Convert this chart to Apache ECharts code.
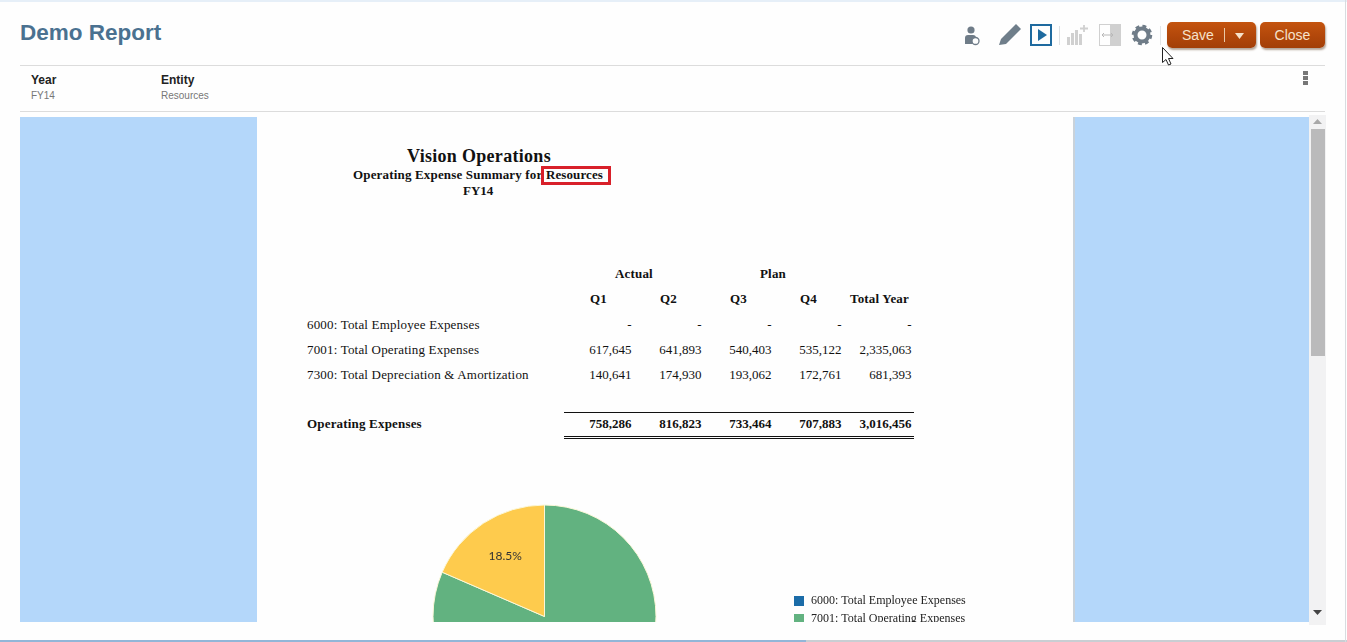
<!DOCTYPE html>
<html lang="en">
<head>
<meta charset="UTF-8">
<title>Demo Report</title>
<script src="https://cdn.jsdelivr.net/npm/echarts@6/dist/echarts.min.js"></script>
<style>
html, body { margin: 0; padding: 0; background: #fff; overflow: hidden; }
#page { position: relative; width: 1347px; height: 642px; overflow: hidden; background: #fefefe; font-family: "Liberation Sans", Arial, sans-serif; }
.box { position: absolute; }
.t { position: absolute; white-space: nowrap; line-height: 1; }
.serif { font-family: "Liberation Serif", serif; color: #111; font-size: 13px; }
.b { font-weight: bold; }
.r { text-align: right; }
.btn { position: absolute; top: 22px; height: 26px; background: linear-gradient(#c4540f, #b0460a 60%, #a23f08); border-radius: 5px; box-shadow: 1px 2px 2px rgba(90,60,30,.45); color: #f6e2cb; font-size: 14px; line-height: 26px; }
#clip { position: absolute; left: 257px; top: 117px; width: 816px; height: 505px; overflow: hidden; }
#chart { width: 816px; height: 700px; }
</style>
</head>
<body>
<div id="page">
    <!-- window edges -->
    <div class="box" style="left:0;top:0;width:1347px;height:2px;background:#e6eff8"></div>
    <div class="box" style="left:0;top:640px;width:806px;height:2px;background:#92b6d8"></div>
    <div class="box" style="left:806px;top:640px;width:541px;height:2px;background:#c9ced3"></div>
    <div class="box" style="left:1345px;top:0;width:1px;height:642px;background:#d8dce0"></div>

    <!-- header -->
    <div class="t b" style="left:20px;top:21.500px;font-size:22.500px;color:#4a7190">Demo Report</div>
    <div class="box" style="left:20px;top:65px;width:1305px;height:1px;background:#dcdcdc"></div>
    <div class="t b" style="left:31px;top:74px;font-size:12px;color:#222">Year</div>
    <div class="t" style="left:31px;top:91px;font-size:10px;color:#777">FY14</div>
    <div class="t b" style="left:161px;top:74px;font-size:12px;color:#222">Entity</div>
    <div class="t" style="left:161px;top:91px;font-size:10px;color:#777">Resources</div>
    <div class="box" style="left:20px;top:111px;width:1305px;height:1px;background:#dcdcdc"></div>

    <!-- toolbar icons -->
    <svg class="box" style="left:955px;top:15px" width="220" height="55" viewBox="955 15 220 55">
        <circle cx="971" cy="30" r="3.600" fill="#6f7c88"/>
        <path d="M965 44 v-6 q0 -3 3 -3 h5 q3 0 3 3 v6 z" fill="#6f7c88"/>
        <circle cx="975.500" cy="41" r="3.500" fill="#fefefe" stroke="#6f7c88" stroke-width="1.300"/>
        <path d="M999 45 l2 -6 l15 -15 l5 5 l-15 15 z" fill="#6f7e8a"/>
        <rect x="1031" y="25" width="20" height="20" fill="#fefefe" stroke="#1e6a9f" stroke-width="2"/>
        <path d="M1038 29 l9 6 l-9 6 z" fill="#1e6a9f"/>
        <rect x="1059" y="26" width="1" height="19" fill="#dde0e3"/>
        <path d="M1067 37h3v8h-3zM1071 33h3v12h-3zM1075 30h3v15h-3zM1079 34h3v11h-3z" fill="#d0d0d0"/>
        <path d="M1080 28.500h8M1084 25v7" stroke="#d0d0d0" stroke-width="1.800" fill="none"/>
        <rect x="1099.500" y="24.500" width="21" height="21" fill="#fefefe" stroke="#d0d0d0"/>
        <rect x="1110" y="24" width="11" height="22" fill="#d0d0d0"/>
        <path d="M1102 35h11M1104 33l-2 2l2 2M1111 33l2 2l-2 2" stroke="#b8b8b8" stroke-width="1" fill="none"/>
        <circle cx="1142" cy="35" r="8.500" fill="none" stroke="#6f7c88" stroke-width="3.500" stroke-dasharray="3.700 3"/>
        <circle cx="1142" cy="35" r="6.500" fill="none" stroke="#6f7c88" stroke-width="4"/>
        <rect x="1160" y="26" width="1" height="19" fill="#e3e5e7"/>
        <path d="M1162.500 47.500 v15 l3.500 -3 l2.500 5.500 l2.500 -1 l-2.500 -5.500 h4.500 z" fill="#fff" stroke="#222" stroke-width="1"/>
    </svg>

    <div class="btn" style="left:1167px;width:89px">
        <span style="position:absolute;left:15px">Save</span>
        <span style="position:absolute;left:57px;top:6px;width:1px;height:14px;background:#eac9a6"></span>
        <svg style="position:absolute;left:68px;top:10.500px" width="9" height="6"><path d="M0 0h9l-4.500 6z" fill="#f6e2cb"/></svg>
    </div>
    <div class="btn" style="left:1260px;width:65px;text-align:center">Close</div>

    <!-- kebab menu -->
    <div class="box" style="left:1303px;top:71px;width:5px;height:4px;background:#777"></div>
    <div class="box" style="left:1303px;top:76px;width:5px;height:4px;background:#777"></div>
    <div class="box" style="left:1303px;top:81px;width:5px;height:4px;background:#777"></div>

    <!-- report viewport -->
    <div class="box" style="left:20px;top:117px;width:237px;height:505px;background:#b4d7fa"></div>
    <div class="box" style="left:1074px;top:117px;width:235px;height:505px;background:#b4d7fa"></div>
    <div class="box" style="left:1073px;top:117px;width:2px;height:505px;background:#c9d2da"></div>
    <div class="box" style="left:1309px;top:115px;width:17px;height:510px;background:#f2f2f3"></div>
    <div class="box" style="left:1311px;top:129px;width:14px;height:227px;background:#bababb"></div>
    <svg class="box" style="left:1313px;top:117px" width="9" height="8"><path d="M0 7h9l-4.500 -5z" fill="#a8a8a8"/></svg>
    <svg class="box" style="left:1313px;top:609px" width="9" height="8"><path d="M0 1h9l-4.500 5z" fill="#444"/></svg>

    <!-- report heading -->
    <div class="t serif b" style="left:407px;top:147px;font-size:18px;letter-spacing:.3px">Vision Operations</div>
    <div class="t serif b" style="left:353px;top:167.500px;letter-spacing:.17px">Operating Expense Summary for</div>
    <div class="t serif b" style="left:546px;top:167.500px;letter-spacing:.1px">Resources</div>
    <div class="box" style="left:541px;top:166px;width:70px;height:19px;box-sizing:border-box;border:3px solid #d8202a"></div>
    <div class="t serif b" style="left:463px;top:183.500px">FY14</div>

    <div id="table"></div>
    <div class="box" style="left:564px;top:412px;width:350px;height:1px;background:#111"></div>
    <div class="box" style="left:564px;top:436px;width:350px;height:1px;background:#111"></div>
    <div class="box" style="left:564px;top:438px;width:350px;height:1px;background:#111"></div>

    <div id="clip"><div id="chart"></div></div>
</div>
<script>
    // table contents
    var groupNames = ['Actual', 'Plan'];
    var periods = ['Q1', 'Q2', 'Q3', 'Q4', 'Total Year'];
    var accounts = ['6000: Total Employee Expenses', '7001: Total Operating Expenses', '7300: Total Depreciation & Amortization'];
    var employeeRow = ['-', '-', '-', '-', '-'];
    var operatingRow = ['617,645', '641,893', '540,403', '535,122', '2,335,063'];
    var depreciationRow = ['140,641', '174,930', '193,062', '172,761', '681,393'];
    var totalLabel = 'Operating Expenses';
    var totalRow = ['758,286', '816,823', '733,464', '707,883', '3,016,456'];

    // pie contents, the slices as the picture shows them
    var sliceNames = accounts;
    var sliceValues = [0, 81.5, 18.5];
    var sliceColors = ['#1b6ca8', '#62b280', '#fecb4d'];

    var table = document.getElementById('table');
    function addText(text, x, y, bold, alignRight) {
        var el = document.createElement('div');
        el.className = 'serif t' + (bold ? ' b' : '') + (alignRight ? ' r' : '');
        el.textContent = text;
        el.style.top = (y - 7) + 'px';
        if (alignRight) {
            el.style.right = (1347 - x) + 'px';
        } else {
            el.style.left = x + 'px';
            el.style.letterSpacing = '.18px';
        }
        table.appendChild(el);
    }

    var rightEdges = [631.5, 701.5, 771.5, 841.5, 911.5];
    var headX = [590, 660, 730, 800, 850];
    addText(groupNames[0], 615, 274, true);
    addText(groupNames[1], 760, 274, true);
    periods.forEach(function (p, i) { addText(p, headX[i], 299, true); });

    var rowY = [325, 350, 375];
    [employeeRow, operatingRow, depreciationRow].forEach(function (row, r) {
        addText(accounts[r], 307, rowY[r]);
        row.forEach(function (v, i) { addText(v, rightEdges[i], rowY[r], false, true); });
    });
    addText(totalLabel, 307, 424, true);
    totalRow.forEach(function (v, i) { addText(v, rightEdges[i], 424, true, true); });

    var myChart = echarts.init(document.getElementById('chart'));
    var option = {
        animation: false,
        color: sliceColors,
        legend: {
            orient: 'vertical',
            left: 532,
            top: 473,
            itemWidth: 10,
            itemHeight: 10,
            itemGap: 6,
            icon: 'rect',
            itemStyle: { borderWidth: 0 },
            data: sliceNames,
            textStyle: { fontFamily: 'Liberation Serif', fontSize: 12, color: '#222', padding: [0, 0, 0, 2] }
        },
        series: [{
            type: 'pie',
            center: [287.5, 499.5],
            radius: 111.5,
            startAngle: 90,
            clockwise: true,
            silent: true,
            itemStyle: { borderColor: '#fbf7d8', borderWidth: 1 },
            labelLine: { show: false },
            data: sliceNames.map(function (name, i) {
                return {
                    name: name,
                    value: sliceValues[i],
                    label: {
                        show: sliceValues[i] > 0,
                        position: 'inside',
                        formatter: '{d}%',
                        offset: [-7, -11],
                        fontFamily: 'Lato',
                        fontSize: 12,
                        color: '#333'
                    }
                };
            })
        }]
    };
    myChart.setOption(option);
</script>
</body>
</html>
